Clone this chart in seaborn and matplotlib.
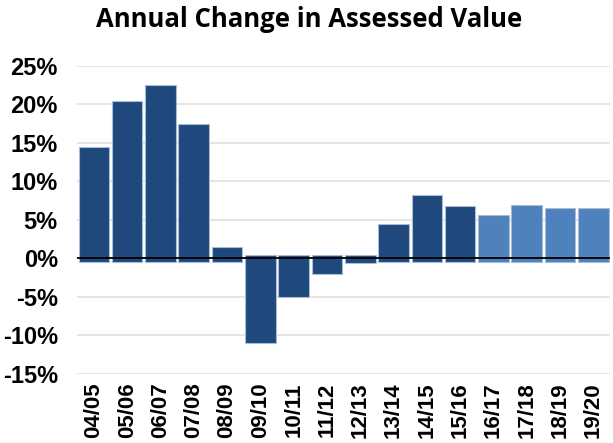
import matplotlib
matplotlib.use("Agg")
import matplotlib.pyplot as plt
import seaborn as sns
import pandas as pd
from matplotlib.ticker import FuncFormatter

# fiscal years and annual change in assessed value (%)
years = ["04/05", "05/06", "06/07", "07/08", "08/09", "09/10", "10/11", "11/12",
         "12/13", "13/14", "14/15", "15/16", "16/17", "17/18", "18/19", "19/20"]
change = [14.5, 20.5, 22.5, 17.5, 1.55, -11.0, -5.0, -2.05,
          -0.65, 4.5, 8.2, 6.8, 5.6, 7.0, 6.5, 6.5]
kind = ["actual"] * 12 + ["projected"] * 4

df = pd.DataFrame({"year": years, "change": change, "kind": kind})

sns.set_theme(style="white")
plt.rcParams["font.family"] = ["Liberation Sans", "DejaVu Sans"]

fig = plt.figure(figsize=(6.13, 4.43), dpi=100)
ax = fig.add_axes([0.126, 0.156, 0.869, 0.695])

palette = {"actual": "#1f497d", "projected": "#4f81bd"}
sns.barplot(data=df, x="year", y="change", hue="kind", palette=palette,
            saturation=1, dodge=False, width=0.92, legend=False, ax=ax,
            edgecolor="#a9bcd6", linewidth=0.8, zorder=2)

# excel-style bars overhang the zero line a little
for p in ax.patches:
    h = p.get_height()
    if h >= 0:
        p.set_y(-0.5)
        p.set_height(h + 0.5)
    else:
        p.set_y(0.5)
        p.set_height(h - 0.5)

ax.axhline(0, color="black", lw=1.3, zorder=3)
ax.set_ylim(-15, 25)
ax.set_yticks(range(-15, 26, 5))
ax.yaxis.set_major_formatter(FuncFormatter(lambda v, _: f"{v:.0f}%"))
ax.grid(axis="y", color="#e0e0e0", lw=1.2, zorder=0)
ax.set_axisbelow(True)
ax.set_xlim(-0.5, len(years) - 0.5)
sns.despine(ax=ax, left=True, bottom=True)

ax.set_xlabel("")
ax.set_ylabel("")
ax.tick_params(axis="y", labelsize=17, pad=14, length=0, labelcolor="black")
ax.tick_params(axis="x", labelsize=16, rotation=90, length=0, pad=6, labelcolor="black")
for lbl in ax.get_yticklabels() + ax.get_xticklabels():
    lbl.set_fontweight("bold")

fig.text(0.505, 0.955, "Annual Change in Assessed Value", ha="center", va="center",
         fontsize=18.5, fontweight="bold", color="black",
         family=["Open Sans", "DejaVu Sans"])

fig.savefig("out.png", dpi=100)
